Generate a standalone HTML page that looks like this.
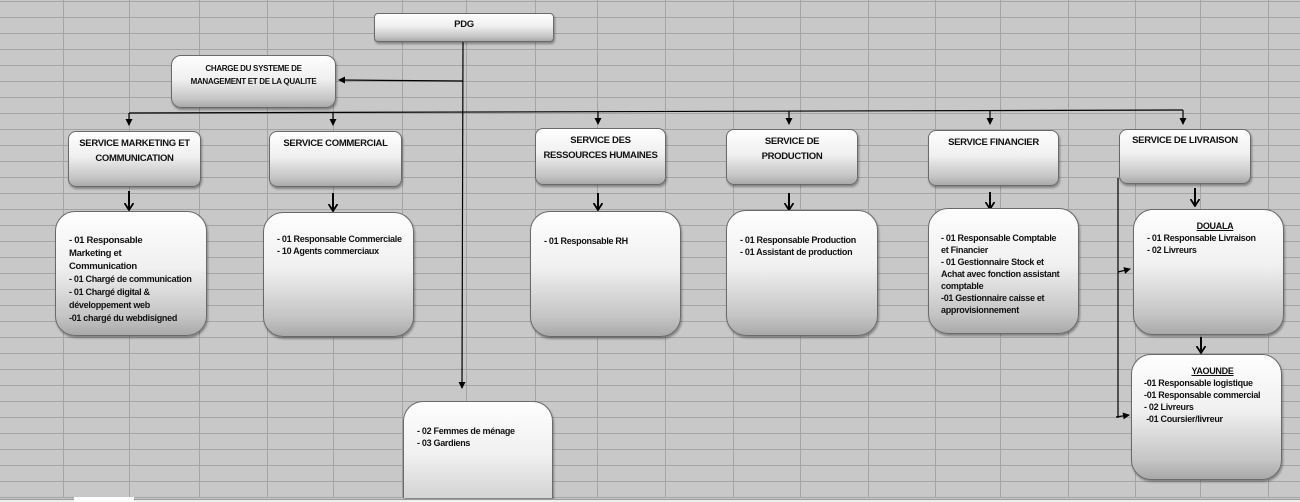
<!DOCTYPE html>
<html><head><meta charset="utf-8"><style>
html,body{margin:0;padding:0;width:1300px;height:502px;overflow:hidden}
body{position:relative;background:#c8c8c8;font-family:"Liberation Sans",sans-serif}
#grid{position:absolute;left:0;top:0;width:1300px;height:498px;
background-image:repeating-linear-gradient(to bottom,#a4a4a4 0,#a4a4a4 1px,transparent 1px,transparent 16px);background-position:0 1px}
.v{position:absolute;top:0;height:498px;width:1px;background:#a4a4a4}
.b{position:absolute;box-sizing:border-box;border:1px solid #6a6a6a;background:linear-gradient(to bottom,#fefefe 0%,#f0f0f0 45%,#c4c4c4 85%,#a9a9a9 100%);box-shadow:1px 2px 2px rgba(0,0,0,.35);color:#111;font-weight:bold;font-size:9px;line-height:12px;letter-spacing:-0.3px;overflow:hidden}
.h{text-align:center;font-size:9.5px;line-height:15px;padding-top:4px}
.t{padding:20px 0 0 12px;line-height:12px}
.u{text-decoration:underline;text-align:center;display:block}
#tabs{position:absolute;left:0;top:499px;width:1300px;height:3px;background:#f0f0f0;border-top:1px solid #999}
#tab{position:absolute;left:74px;top:497px;width:60px;height:5px;background:#fff}
</style></head><body>
<div id="grid"></div>
<div class="v" style="left:63px"></div><div class="v" style="left:129px"></div><div class="v" style="left:199px"></div><div class="v" style="left:267px"></div><div class="v" style="left:333px"></div><div class="v" style="left:402px"></div><div class="v" style="left:466px"></div><div class="v" style="left:535px"></div><div class="v" style="left:597px"></div><div class="v" style="left:665px"></div><div class="v" style="left:733px"></div><div class="v" style="left:800px"></div><div class="v" style="left:868px"></div><div class="v" style="left:935px"></div><div class="v" style="left:1000px"></div><div class="v" style="left:1068px"></div><div class="v" style="left:1135px"></div><div class="v" style="left:1200px"></div><div class="v" style="left:1268px"></div>

<svg width="1300" height="502" style="position:absolute;left:0;top:0">
<defs><marker id="a" markerWidth="7" markerHeight="7" refX="6" refY="3.5" orient="auto" markerUnits="userSpaceOnUse"><path d="M0,0L7,3.5L0,7z" fill="#000"/></marker>
<marker id="a2" markerWidth="8" markerHeight="10" refX="7" refY="5" orient="auto" markerUnits="userSpaceOnUse"><path d="M0,0.5L7,5L0,9.5" fill="none" stroke="#000" stroke-width="1.8"/></marker></defs>
<g stroke="#000" stroke-width="1.2" fill="none">
<line x1="463" y1="41" x2="462" y2="388" marker-end="url(#a)"/>
<line x1="463" y1="81" x2="339" y2="80" marker-end="url(#a)"/>
<line x1="129" y1="113" x2="1183" y2="110"/>
<line x1="129" y1="113" x2="129" y2="125" marker-end="url(#a)"/>
<line x1="333" y1="112" x2="333" y2="125" marker-end="url(#a)"/>
<line x1="598" y1="111" x2="598" y2="124" marker-end="url(#a)"/>
<line x1="789" y1="111" x2="789" y2="124" marker-end="url(#a)"/>
<line x1="990" y1="111" x2="990" y2="124" marker-end="url(#a)"/>
<line x1="1183" y1="110" x2="1183" y2="124" marker-end="url(#a)"/>
<line x1="1118" y1="178" x2="1118" y2="418"/>
<line x1="1118" y1="272" x2="1130" y2="269" marker-end="url(#a)"/>
<line x1="1116" y1="417" x2="1129" y2="415" marker-end="url(#a)"/>
</g>
<g stroke="#000" stroke-width="2" fill="none">
<line x1="129" y1="191" x2="129" y2="210" marker-end="url(#a2)"/>
<line x1="333" y1="193" x2="333" y2="211" marker-end="url(#a2)"/>
<line x1="598" y1="193" x2="598" y2="210" marker-end="url(#a2)"/>
<line x1="789" y1="193" x2="789" y2="210" marker-end="url(#a2)"/>
<line x1="990" y1="192" x2="990" y2="209" marker-end="url(#a2)"/>
<line x1="1195" y1="188" x2="1195" y2="206" marker-end="url(#a2)"/>
<line x1="1201" y1="337" x2="1201" y2="353" marker-end="url(#a2)"/>
</g>
</svg>

<div class="b h" style="left:374px;top:13px;width:180px;height:29px;border-radius:4px;padding-top:3px">PDG</div>
<div class="b h" style="left:171px;top:55px;width:165px;height:53px;border-radius:10px;font-size:8px;line-height:13px;padding-top:6px">CHARGE DU SYSTEME DE<br>MANAGEMENT ET DE LA QUALITE</div>

<div class="b h" style="left:68px;top:131px;width:133px;height:56px;border-radius:8px">SERVICE MARKETING ET<br>COMMUNICATION</div>
<div class="b h" style="left:269px;top:131px;width:133px;height:56px;border-radius:8px">SERVICE COMMERCIAL</div>
<div class="b h" style="left:535px;top:128px;width:131px;height:57px;border-radius:8px">SERVICE DES<br>RESSOURCES HUMAINES</div>
<div class="b h" style="left:726px;top:129px;width:132px;height:56px;border-radius:8px">SERVICE DE<br>PRODUCTION</div>
<div class="b h" style="left:928px;top:130px;width:131px;height:56px;border-radius:8px">SERVICE FINANCIER</div>
<div class="b h" style="left:1119px;top:129px;width:132px;height:55px;border-radius:8px;padding-top:3px">SERVICE DE LIVRAISON</div>

<div class="b t" style="left:55px;top:211px;width:152px;height:125px;border-radius:20px;padding-top:22px;padding-left:13px;font-size:9.5px;line-height:13px">- 01 Responsable<br>Marketing et<br>Communication<br><span style="font-size:9px;line-height:12px">- 01 Chargé de communication<br>- 01 Chargé digital &amp;<br>développement web<br>-01 chargé du webdisigned</span></div>
<div class="b t" style="left:263px;top:212px;width:151px;height:125px;border-radius:20px;padding-left:13px">- 01 Responsable Commerciale<br>- 10 Agents commerciaux</div>
<div class="b t" style="left:530px;top:211px;width:151px;height:126px;border-radius:20px;padding-left:13px;padding-top:23px">- 01 Responsable RH</div>
<div class="b t" style="left:726px;top:210px;width:152px;height:126px;border-radius:20px;padding-left:13px;padding-top:23px">- 01 Responsable Production<br>- 01 Assistant de production</div>
<div class="b t" style="left:928px;top:208px;width:151px;height:126px;border-radius:20px;padding-left:12px;padding-top:23px">- 01 Responsable Comptable<br>et Financier<br>- 01 Gestionnaire Stock et<br>Achat avec fonction assistant<br>comptable<br>-01 Gestionnaire caisse et<br>approvisionnement</div>
<div class="b t" style="left:1133px;top:209px;width:151px;height:126px;border-radius:20px;padding-left:13px;padding-top:10px"><span class="u">DOUALA</span>- 01 Responsable Livraison<br>- 02 Livreurs</div>
<div class="b t" style="left:1131px;top:354px;width:151px;height:126px;border-radius:20px;padding-left:12px;padding-top:10px"><span class="u">YAOUNDE</span>-01 Responsable logistique<br>-01 Responsable commercial<br>- 02 Livreurs<br>&nbsp;-01 Coursier/livreur</div>
<div class="b t" style="left:403px;top:401px;width:150px;height:97px;border-radius:20px 20px 0 0;border-bottom:none;padding-left:13px;padding-top:23px;background:linear-gradient(to bottom,#fefefe 0%,#f0f0f0 55%,#d4d4d4 100%)">- 02 Femmes de ménage<br>- 03 Gardiens</div>
<div id="tabs"></div><div id="tab"></div>
</body></html>
